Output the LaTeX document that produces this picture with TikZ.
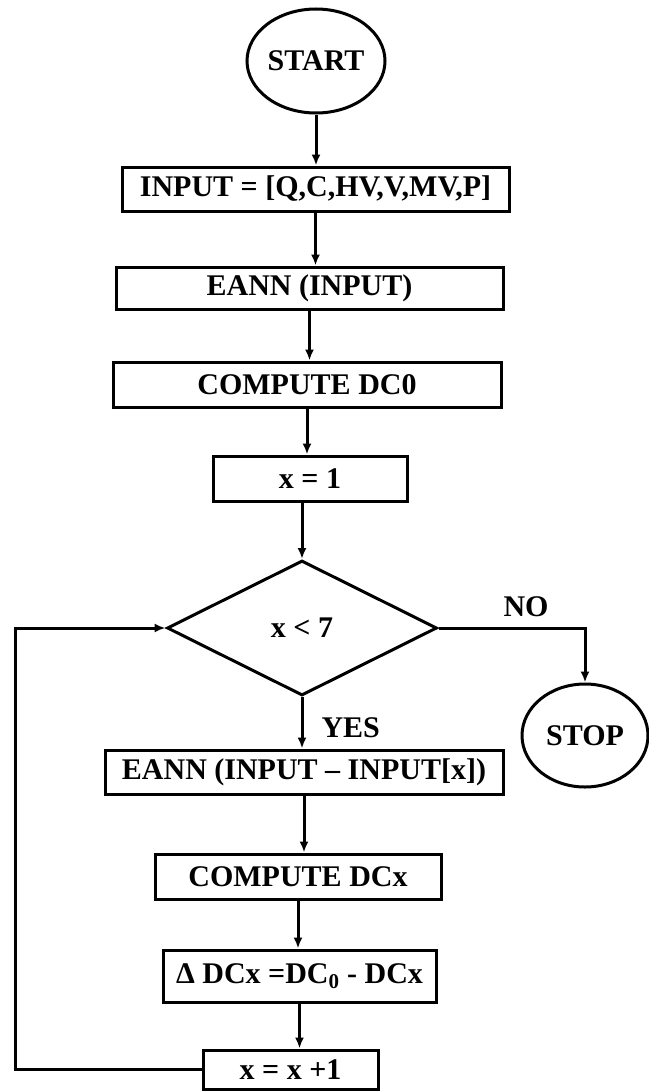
\documentclass[tikz,border=0pt]{standalone}
\usepackage{fontspec}
\setmainfont{Liberation Serif}
\usetikzlibrary{arrows.meta,positioning,shapes.geometric}
\tikzset{
  flow/box/.style={
    draw=black,
    line width=3pt,
    fill=white,
    align=center,
    inner sep=0pt,
    font=\fontsize{30}{36}\selectfont\bfseries
  },
  flow/term/.style={
    ellipse,
    draw=black,
    line width=3pt,
    fill=white,
    inner sep=0pt,
    font=\fontsize{30}{36}\selectfont\bfseries
  },
  flow/decision/.style={
    diamond,
    draw=black,
    line width=3pt,
    fill=white,
    inner sep=0pt,
    minimum width=270pt,
    minimum height=135pt,
    font=\fontsize{30}{36}\selectfont\bfseries
  },
  flow/arrow/.style={-{Latex[length=11pt,width=9pt]}, line width=3pt, draw=black},
  flow/label/.style={font=\fontsize{30}{36}\selectfont\bfseries}
}

\begin{document}
\begin{tikzpicture}[x=1pt,y=-1pt]
  \useasboundingbox (0,0) rectangle (648,1092);
  \node[flow/term,minimum width=138pt,minimum height=104pt] (start) at (316,61) {START};
  \node[flow/box,minimum width=387pt,minimum height=44pt] (input) at (315.5,189) {INPUT = [Q,C,HV,V,MV,P]};
  \node[flow/box,minimum width=387pt,minimum height=42pt] (eann) at (309.5,288) {EANN (INPUT)};
  \node[flow/box,minimum width=388pt,minimum height=45pt] (dczero) at (307,384.5) {COMPUTE DC0};
  \node[flow/box,minimum width=194pt,minimum height=45pt] (xone) at (310,478.5) {x = 1};
  \node[flow/decision] (cond) at (302,628) {x {<} 7};
  \node[flow/term,minimum width=126pt,minimum height=103pt] (stop) at (585,735.5) {STOP};
  \node[flow/box,minimum width=398pt,minimum height=44pt] (eannx) at (304,772) {EANN (INPUT – INPUT[x])};
  \node[flow/box,minimum width=286pt,minimum height=45pt] (dcx) at (298,876.5) {COMPUTE DCx};
  \node[flow/box,minimum width=273pt,minimum height=52pt] (delta) at (299.5,976) {Δ DCx =DC\textsubscript{0} - DCx};
  \node[flow/box,minimum width=175pt,minimum height=39pt] (xinc) at (290.5,1069.5) {x = x +1};
  \node[flow/label] (no) at (526,607) {NO};
  \node[flow/label,anchor=west] (yes) at (318,728) {YES};
  \coordinate (loopx) at (15,0);

  \draw[flow/arrow] (start) -- (start |- input.north);
  \draw[flow/arrow] (input) -- (input |- eann.north);
  \draw[flow/arrow] (eann) -- (eann |- dczero.north);
  \draw[flow/arrow] (dczero) -- (dczero |- xone.north);
  \draw[flow/arrow] (cond |- xone.south) -- (cond);
  \draw[flow/arrow] (cond.east) -- (cond.east -| stop.north) -- (stop.north);
  \draw[flow/arrow] (cond) -- (cond |- eannx.north);
  \draw[flow/arrow] (eannx) -- (eannx |- dcx.north);
  \draw[flow/arrow] (dcx) -- (dcx |- delta.north);
  \draw[flow/arrow] (delta) -- (delta |- xinc.north);
  \draw[flow/arrow] (xinc.west) -- (xinc.west -| loopx) |- (cond.west);
\end{tikzpicture}
\end{document}
